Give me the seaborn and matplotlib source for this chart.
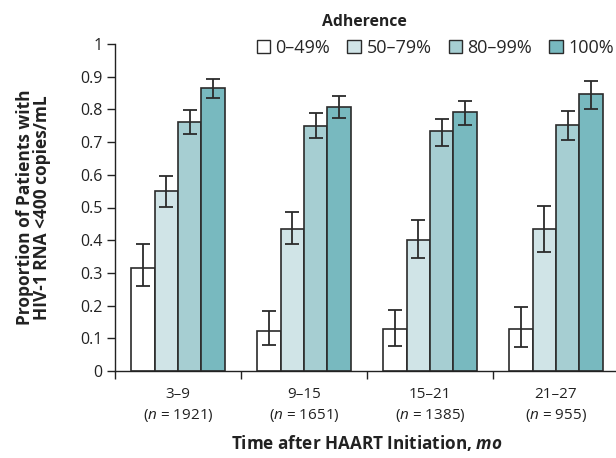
import matplotlib
matplotlib.use("Agg")
import matplotlib.pyplot as plt
import seaborn as sns
import pandas as pd
import numpy as np

periods = ["3–9", "9–15", "15–21", "21–27"]
n_counts = [1921, 1651, 1385, 955]
adherence = ["0–49%", "50–79%", "80–99%", "100%"]

p_0_49 = [0.315, 0.121, 0.128, 0.128]
lo_0_49 = [0.261, 0.080, 0.077, 0.074]
hi_0_49 = [0.387, 0.184, 0.186, 0.197]

p_50_79 = [0.550, 0.435, 0.401, 0.434]
lo_50_79 = [0.502, 0.387, 0.347, 0.364]
hi_50_79 = [0.597, 0.486, 0.461, 0.506]

p_80_99 = [0.762, 0.750, 0.733, 0.751]
lo_80_99 = [0.725, 0.713, 0.688, 0.706]
hi_80_99 = [0.798, 0.788, 0.772, 0.794]

p_100 = [0.865, 0.807, 0.791, 0.848]
lo_100 = [0.835, 0.773, 0.752, 0.801]
hi_100 = [0.893, 0.842, 0.825, 0.888]

colors = ["#FFFFFF", "#D0E4E7", "#A6CED2", "#78B9BF"]

values = [p_0_49, p_50_79, p_80_99, p_100]
lows = [lo_0_49, lo_50_79, lo_80_99, lo_100]
highs = [hi_0_49, hi_50_79, hi_80_99, hi_100]

rows = []
for a, vals in zip(adherence, values):
    for p, v in zip(periods, vals):
        rows.append({"period": p, "adherence": a, "prop": v})
df = pd.DataFrame(rows)

sns.set_style("ticks")
FONT = ["Open Sans", "DejaVu Sans"]
plt.rcParams["font.family"] = FONT
plt.rcParams["mathtext.fontset"] = "custom"
plt.rcParams["mathtext.it"] = "Open Sans:italic"
plt.rcParams["mathtext.rm"] = "Open Sans"
plt.rcParams["mathtext.bf"] = "Open Sans:bold:italic"

INK = "#222222"
fig = plt.figure(figsize=(6.16, 4.58), dpi=100)
ax = fig.add_axes([115 / 616, 1 - 371 / 458, 504 / 616, (371 - 44) / 458])

sns.barplot(data=df, x="period", y="prop", hue="adherence", order=periods,
            hue_order=adherence, palette=colors, errorbar=None, width=0.74,
            edgecolor="#2b2b2b", linewidth=1.2, saturation=1, ax=ax)

for cont, lo, hi in zip(ax.containers, lows, highs):
    for patch, l, h in zip(cont.patches, lo, hi):
        xc = patch.get_x() + patch.get_width() / 2
        mid = (l + h) / 2
        ax.errorbar(xc, mid, yerr=[[mid - l], [h - mid]],
                    fmt="none", ecolor="#2b2b2b", elinewidth=1.3, capsize=5,
                    capthick=1.3, zorder=5)

ax.set_xlim(-0.5, 3.5)
ax.set_ylim(0, 1)
ax.set_yticks(np.arange(0, 1.01, 0.1))
ax.set_yticklabels(["0"] + [f"{v:.1f}" for v in np.arange(0.1, 0.95, 0.1)] + ["1"])
ax.set_xticks(range(len(periods)))
ax.set_xticklabels([f"{p}\n($\\it{{n}}$ = {n})" for p, n in zip(periods, n_counts)],
                   fontsize=11, color=INK, linespacing=1.45)
ax.tick_params(axis="x", length=0, pad=11.5)
ax.set_xticks(np.arange(-0.5, 3.6, 1.0), minor=True)
ax.tick_params(axis="x", which="minor", length=6, width=1.0, color=INK)
ax.tick_params(axis="y", length=6, width=1.0, color=INK, labelsize=11.5,
               labelcolor=INK, pad=3)
sns.despine(ax=ax)
for s in ["left", "bottom"]:
    ax.spines[s].set_linewidth(1.0)
    ax.spines[s].set_color(INK)

ax.set_xlabel("Time after HAART Initiation, $\\mathbf{mo}$", fontsize=12.3,
              fontweight="bold", color=INK, labelpad=6)
ax.set_ylabel("Proportion of Patients with\nHIV-1 RNA <400 copies/mL", fontsize=12.5,
              fontweight="bold", color=INK, labelpad=21, linespacing=0.92)

sns.move_legend(ax, loc="center left", bbox_to_anchor=(253 / 616, 1 - 48 / 458),
                bbox_transform=fig.transFigure, ncol=4, frameon=False,
                title=None, fontsize=13, handlelength=0.75,
                handleheight=0.75, handletextpad=0.3, columnspacing=0.95,
                borderaxespad=0, borderpad=0.2)
leg = ax.get_legend()
for h in leg.legend_handles:
    h.set_edgecolor("#2b2b2b")
    h.set_linewidth(1.0)

fig.text(364 / 616, 1 - 22 / 458, "Adherence", ha="center", va="center",
         fontsize=11.3, fontweight="bold", color=INK)

fig.savefig("out.png", dpi=100)
